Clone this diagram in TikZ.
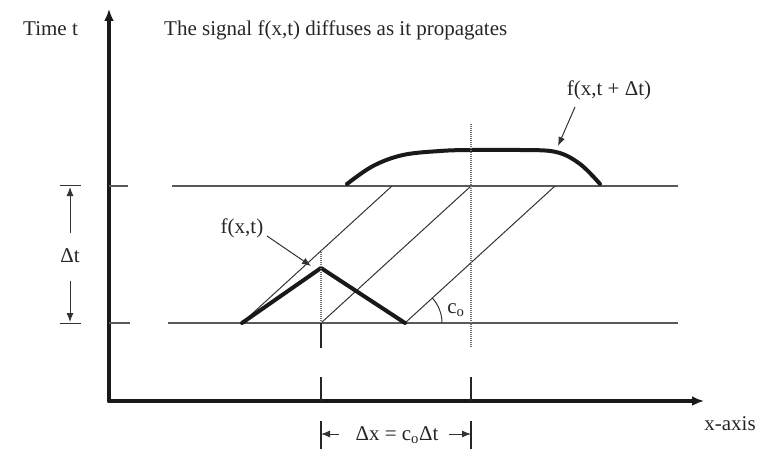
\documentclass[tikz,border=0pt]{standalone}
\usepackage{fontspec}
\setmainfont{Liberation Serif}
\usetikzlibrary{arrows.meta}
\begin{document}
\begin{tikzpicture}[x=1pt,y=-1pt,
  every node/.style={font=\fontsize{21}{24}\selectfont, inner sep=0pt, text=black!85},
  axisline/.style={line width=4pt, black!90, line cap=round},
  guide/.style={line width=1.4pt, black!65},
  thinline/.style={line width=1pt, black!80},
  signal/.style={line width=4pt, black!90, line cap=round, line join=round},
  dotv/.style={line width=1.1pt, black!55, dash pattern=on 1pt off 1pt},
  tickv/.style={line width=1.3pt, black!85},
  bigtip/.style={-{Latex[length=12pt,width=10pt]}},
  smalltip/.style={-{Latex[length=9pt,width=7pt]}}]
\useasboundingbox (0,0) rectangle (757,449);

% axes
\coordinate (O) at (109,401);
\coordinate (Ytop) at (109,9);
\coordinate (Xend) at (704,401);
\draw[axisline, bigtip] (O) -- (Ytop);
\draw[axisline, bigtip] (O) -- (Xend);
\node[anchor=base west] (tlabel) at (23,36) {Time t};
\node[anchor=base west] (title) at (164,36) {The signal f(x,t) diffuses as it propagates};
\node (xlabel) at (730,424) {x-axis};

% horizontal time levels
\coordinate (U0) at (109,186); \coordinate (U1) at (128,186);
\coordinate (U2) at (172,186); \coordinate (U3) at (678,186);
\coordinate (L0) at (109,323); \coordinate (L1) at (130,323);
\coordinate (L2) at (168,323); \coordinate (L3) at (678,323);
\draw[guide] (U0) -- (U1);
\draw[guide] (U2) -- (U3);
\draw[guide] (L0) -- (L1);
\draw[guide] (L2) -- (L3);

% Delta t dimension
\coordinate (DA1) at (60,186); \coordinate (DA2) at (81,186);
\coordinate (DB1) at (60,323); \coordinate (DB2) at (81,323);
\draw[thinline] (DA1) -- (DA2);
\draw[thinline] (DB1) -- (DB2);
\node (dt) at (70,256) {Δt};
\coordinate (dtup) at (70,233); \coordinate (dttop) at (70,187);
\coordinate (dtdn) at (70,281); \coordinate (dtbot) at (70,322);
\draw[thinline, smalltip] (dtup) -- (dttop);
\draw[thinline, smalltip] (dtdn) -- (dtbot);

% triangle signal and characteristics
\coordinate (A) at (242,323);
\coordinate (P) at (321,268);
\coordinate (B) at (405,323);
\coordinate (M) at (321,323);
\coordinate (A2) at (392,186);
\coordinate (M2) at (471,186);
\coordinate (B2) at (555,186);
\draw[thinline] (A) -- (A2);
\draw[thinline] (M) -- (M2);
\draw[thinline] (B) -- (B2);
\draw[signal] (A) -- (P) -- (B);

% angle c_o
\draw[thinline] (442,323) arc[start angle=0, end angle=42, radius=37pt];
\node (co) at (456,310) {c\textsubscript{o}};

% diffused signal
\draw[signal] plot[smooth, tension=0.6] coordinates {(347,184) (373,166) (403,155) (440,151) (471,150) (520,150) (556,152) (580,164) (600,184)};

% vertical markers
\coordinate (V1a) at (321,250); \coordinate (V1b) at (321,348);
\coordinate (V1c) at (321,377); \coordinate (V1d) at (321,401);
\coordinate (V2a) at (471,124); \coordinate (V2b) at (471,347);
\coordinate (V2c) at (471,377); \coordinate (V2d) at (471,401);
\draw[dotv] (V1a) -- (M);
\draw[tickv] (M) -- (V1b);
\draw[tickv] (V1c) -- (V1d);
\draw[dotv] (V2a) -- (V2b);
\draw[tickv] (V2c) -- (V2d);

% Delta x dimension
\coordinate (W1a) at (321,421); \coordinate (W1b) at (321,449);
\coordinate (W2a) at (471,421); \coordinate (W2b) at (471,449);
\draw[tickv] (W1a) -- (W1b);
\draw[tickv] (W2a) -- (W2b);
\node (dx) at (397,435) {Δx = c\textsubscript{o}Δt};
\coordinate (DXl) at (339,434); \coordinate (DXr) at (449,434);
\draw[thinline, smalltip] (DXl) -- (W1a |- DXl);
\draw[thinline, smalltip] (DXr) -- (W2a |- DXr);

% labels with pointers
\node (fxt) at (242,228) {f(x,t)};
\coordinate (fxtS) at (267,236);
\coordinate (fxtE) at (311,266);
\draw[thinline, smalltip] (fxtS) -- (fxtE);
\node (fxtd) at (609,90) {f(x,t + Δt)};
\coordinate (fxtdS) at (575,107);
\coordinate (fxtdE) at (558,146);
\draw[thinline, smalltip] (fxtdS) -- (fxtdE);
\end{tikzpicture}
\end{document}
